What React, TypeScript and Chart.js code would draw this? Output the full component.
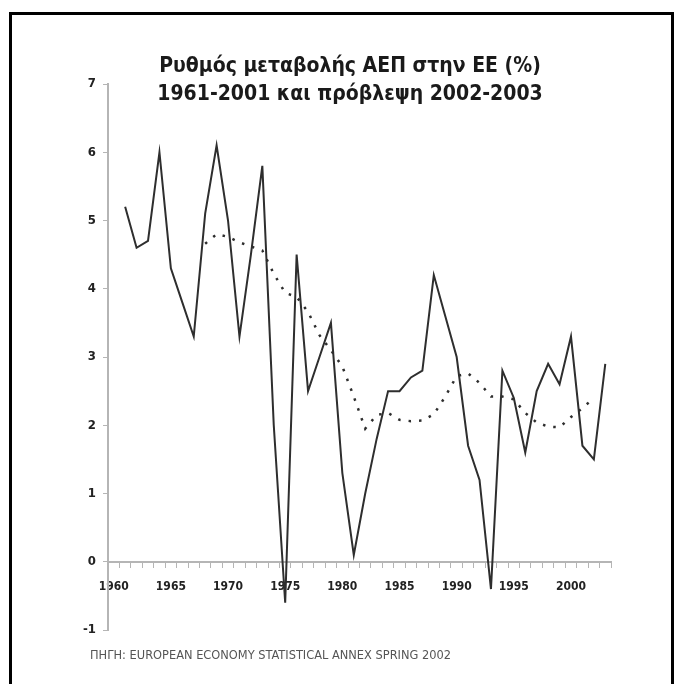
import React, { useEffect, useRef } from "react";
import { Chart, registerables } from "chart.js";

Chart.register(...registerables);

const TITLE_LINE_1 = "Ρυθμός μεταβολής ΑΕΠ στην ΕΕ (%)";
const TITLE_LINE_2 = "1961-2001 και πρόβλεψη 2002-2003";
const SOURCE = "ΠΗΓΗ: EUROPEAN ECONOMY STATISTICAL ANNEX SPRING 2002";

const years = [
  1960, 1961, 1962, 1963, 1964, 1965, 1966, 1967, 1968, 1969,
  1970, 1971, 1972, 1973, 1974, 1975, 1976, 1977, 1978, 1979,
  1980, 1981, 1982, 1983, 1984, 1985, 1986, 1987, 1988, 1989,
  1990, 1991, 1992, 1993, 1994, 1995, 1996, 1997, 1998, 1999,
  2000, 2001, 2002, 2003,
];

const growth = [
  null, 5.2, 4.6, 4.7, 6.0, 4.3, 3.8, 3.3, 5.1, 6.1,
  5.0, 3.3, 4.5, 5.8, 2.0, -0.6, 4.5, 2.5, 3.0, 3.5,
  1.3, 0.1, 1.0, 1.8, 2.5, 2.5, 2.7, 2.8, 4.2, 3.6,
  3.0, 1.7, 1.2, -0.4, 2.8, 2.4, 1.6, 2.5, 2.9, 2.6,
  3.3, 1.7, 1.5, 2.9,
];

const trend = [
  null, null, null, null, null, null, null, null, 4.66, 4.8,
  4.76, 4.68, 4.62, 4.56, 4.22, 3.94, 3.88, 3.66, 3.32, 3.1,
  2.86, 2.42, 1.95, 2.15, 2.18, 2.08, 2.06, 2.07, 2.16, 2.42,
  2.72, 2.76, 2.62, 2.42, 2.42, 2.38, 2.18, 2.04, 1.98, 1.97,
  2.12, 2.25, 2.4, null,
];

const yMin = -1;
const yMax = 7;

const NARROW = '"Liberation Sans Narrow", "Arial Narrow", "DejaVu Sans Condensed", "Liberation Sans", sans-serif';

const textPlugin = {
  id: "textPlugin",
  afterDraw(chart: any) {
    const ctx = chart.ctx;
    ctx.save();
    ctx.fillStyle = "#1a1a1a";
    ctx.textAlign = "center";
    ctx.textBaseline = "middle";
    ctx.font = `bold 21px ${NARROW}`;
    ctx.fillText(TITLE_LINE_1, 334, 67);
    ctx.fillText(TITLE_LINE_2, 334, 95);
    ctx.fillStyle = "#555";
    ctx.textAlign = "left";
    ctx.font = `12.7px ${NARROW}`;
    ctx.fillText(SOURCE, 74, 656);
    ctx.restore();
  },
};

export default function App() {
  const ref = useRef<HTMLCanvasElement | null>(null);

  useEffect(() => {
    if (!ref.current) return;
    const chart = new Chart(ref.current, {
      type: "line",
      data: {
        labels: years.map(String),
        datasets: [
          {
            label: "ΑΕΠ",
            data: growth,
            borderColor: "#2e2e2e",
            borderWidth: 2,
            pointRadius: 0,
            tension: 0,
            spanGaps: false,
          },
          {
            label: "Τάση",
            data: trend,
            borderColor: "#2e2e2e",
            borderWidth: 2.5,
            borderDash: [2.5, 8],
            pointRadius: 0,
            tension: 0,
          },
        ],
      },
      options: {
        animation: false,
        responsive: false,
        maintainAspectRatio: false,
        layout: { padding: { left: 52, right: 73, top: 84, bottom: 54 } },
        plugins: {
          legend: { display: false },
          title: { display: false },
          tooltip: { enabled: false },
        },
        scales: {
          x: {
            type: "category",
            position: { y: 0 },
            offset: true,
            grid: {
              offset: true,
              drawOnChartArea: false,
              drawTicks: true,
              tickLength: 5,
              color: "#b5b5b5",
              lineWidth: 1,
            },
            border: { color: "#b5b5b5", width: 2 },
            ticks: {
              autoSkip: false,
              maxRotation: 0,
              minRotation: 0,
              padding: 13,
              color: "#222",
              font: { family: NARROW, size: 12, weight: "bold" },
              callback: (_v: any, i: number) => (years[i] % 5 === 0 ? String(years[i]) : ""),
            },
          },
          y: {
            min: yMin,
            max: yMax,
            afterFit: (s: any) => {
              s.width = 40;
            },
            grid: {
              drawOnChartArea: false,
              drawTicks: true,
              tickLength: 5,
              color: "#b5b5b5",
              lineWidth: 1,
            },
            border: { color: "#b5b5b5", width: 2 },
            ticks: {
              stepSize: 1,
              padding: 7,
              color: "#222",
              font: { family: NARROW, size: 13, weight: "bold" },
            },
          },
        },
      },
      plugins: [textPlugin],
    });
    return () => chart.destroy();
  }, []);

  return (
    <div
      style={{
        position: "absolute",
        left: 0,
        top: 0,
        width: 684,
        height: 684,
        overflow: "hidden",
        background: "#fff",
      }}
    >
      <div
        style={{
          position: "absolute",
          left: 9,
          top: 12,
          width: 665,
          height: 700,
          border: "3px solid #000",
          boxSizing: "border-box",
        }}
      />
      <canvas
        ref={ref}
        width={668}
        height={684}
        style={{ position: "absolute", left: 16, top: 0, width: 668, height: 684 }}
      />
    </div>
  );
}
